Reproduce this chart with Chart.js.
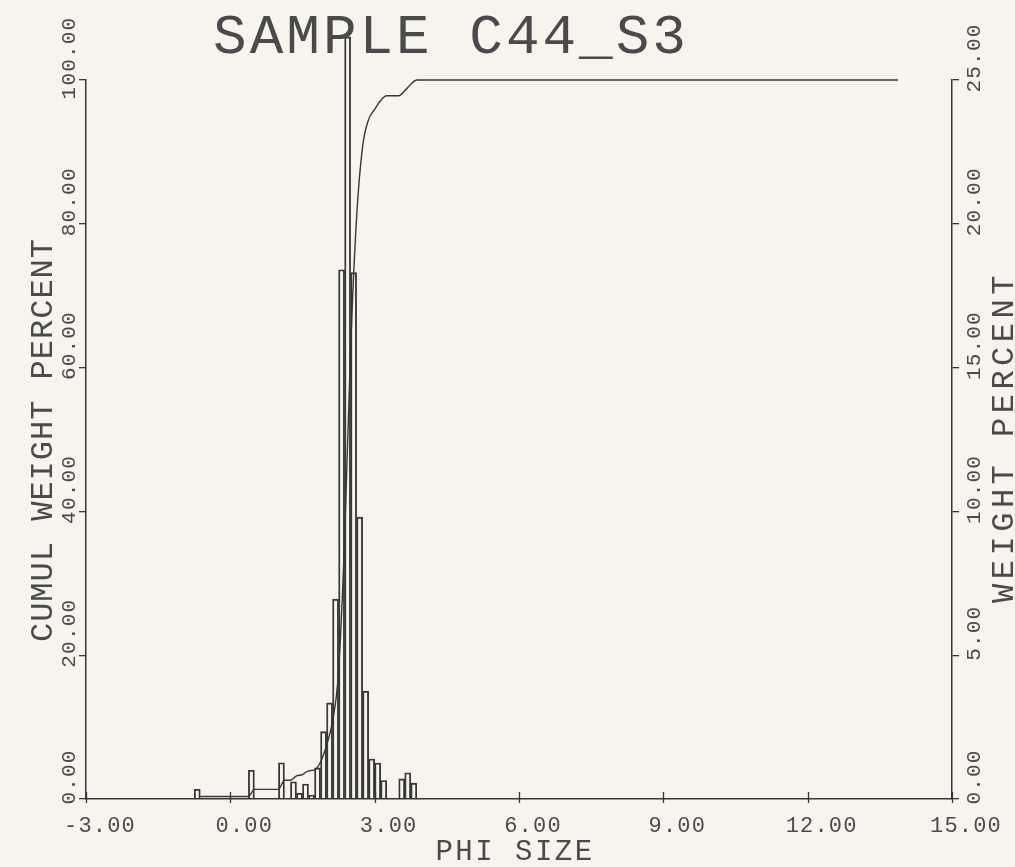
<!DOCTYPE html>
<html>
<head>
<meta charset="utf-8">
<title>SAMPLE C44_S3</title>
<script src="https://cdn.jsdelivr.net/npm/chart.js@4/dist/chart.umd.min.js"></script>
<style>
  html, body { margin: 0; padding: 0; background: #f7f4ee; }
  #wrap { position: relative; width: 1015px; height: 867px; }
</style>
</head>
<body>
<div id="wrap"><canvas id="chart" width="1015" height="867"></canvas></div>
<script>
// weight percent in each 1/8 phi class (lower edge of the class)
const binLow = [-0.75, 0.375, 1.0, 1.25, 1.375, 1.5, 1.625, 1.75, 1.875, 2.0, 2.125,
                2.25, 2.375, 2.5, 2.625, 2.75, 2.875, 3.0, 3.125, 3.5, 3.625, 3.75];
const weightPct = [0.34, 1.0, 1.26, 0.6, 0.2, 0.52, 0.14, 1.08, 2.34, 3.34, 6.95,
                   18.4, 26.5, 18.3, 9.8, 3.75, 1.39, 1.25, 0.64, 0.7, 0.91, 0.55];

// cumulative weight percent, plotted at the upper edge of each class
const cumPhi = [-0.625, 0.375, 0.5, 1.0, 1.125, 1.25, 1.375, 1.5, 1.625, 1.75, 1.875, 2.0,
                2.125, 2.25, 2.375, 2.5, 2.625, 2.75, 2.875, 3.0, 3.125, 3.25, 3.5, 3.625,
                3.75, 3.875, 13.875];
const cumPct = [0.34, 0.34, 1.34, 1.34, 2.6, 2.6, 3.2, 3.4, 3.92, 4.06, 5.14, 7.48,
                10.82, 17.77, 36.17, 62.67, 80.97, 90.77, 94.52, 95.91, 97.16, 97.8, 97.8, 98.5,
                99.41, 100, 100];

const xTicks = [-3, 0, 3, 6, 9, 12, 15];
const cumTicks = [0, 20, 40, 60, 80, 100];
const wtTicks = [0, 5, 10, 15, 20, 25];

const BIN = 0.125;
const INK = '#363636';
const TEXT_INK = '#4a4a4a';
const FONT = '"Liberation Mono", "DejaVu Sans Mono", monospace';

function plotText(ctx, str, x, y, size, spacing, rot, align) {
    ctx.save();
    ctx.translate(x, y);
    if (rot) ctx.rotate(rot);
    ctx.font = size + 'px ' + FONT;
    ctx.letterSpacing = spacing + 'px';
    ctx.textAlign = align || 'center';
    ctx.textBaseline = 'alphabetic';
    ctx.fillStyle = TEXT_INK;
    ctx.fillText(str, 0, 0);
    ctx.restore();
}

// all lettering (and the x tick marks, which cross the axis) is done here
const lettering = {
    id: 'lettering',
    afterDraw(chart) {
        const { ctx, scales, chartArea } = chart;
        const up = -Math.PI / 2;

        ctx.save();
        ctx.strokeStyle = INK;
        ctx.lineWidth = 1.3;
        xTicks.forEach(v => {
            const px = Math.round(scales.x.getPixelForValue(v)) + 0.5;
            ctx.beginPath();
            ctx.moveTo(px, chartArea.bottom - 7);
            ctx.lineTo(px, chartArea.bottom + 4);
            ctx.stroke();
        });
        ctx.restore();

        plotText(ctx, 'SAMPLE C44_S3', 451, 53, 56, 3);

        xTicks.forEach(v => {
            plotText(ctx, v.toFixed(2), scales.x.getPixelForValue(v) + 14, 832, 22, 1.2);
        });
        plotText(ctx, 'PHI SIZE', 515, 860, 29, 2.5);

        cumTicks.forEach(v => {
            plotText(ctx, v.toFixed(2), 75, scales.yL.getPixelForValue(v) - 22, 21, 1.2, up);
        });
        plotText(ctx, 'CUMUL WEIGHT PERCENT', 52, 440, 32, 1, up);

        wtTicks.forEach(v => {
            plotText(ctx, v.toFixed(2), 980, scales.yR.getPixelForValue(v) - 22, 21, 1.2, up);
        });
        plotText(ctx, 'WEIGHT PERCENT', 1013, 437, 32, 4.5, up);
    }
};

const axisLine = { color: INK, width: 1.5 };
const tickMarks = { drawOnChartArea: false, drawTicks: true, tickLength: 7, color: INK, lineWidth: 1.3, offset: false };

new Chart(document.getElementById('chart'), {
    type: 'bar',
    data: {
        datasets: [
            {
                type: 'line',
                data: cumPhi.map((p, i) => ({ x: p, y: cumPct[i] })),
                xAxisID: 'x',
                yAxisID: 'yL',
                borderColor: INK,
                borderWidth: 1.4,
                pointRadius: 0,
                fill: false,
                cubicInterpolationMode: 'monotone',
                clip: false
            },
            {
                type: 'bar',
                data: binLow.map((b, i) => ({ x: b + BIN / 2, y: weightPct[i] })),
                xAxisID: 'x',
                yAxisID: 'yR',
                backgroundColor: 'rgba(0,0,0,0)',
                borderColor: INK,
                borderWidth: 1.2,
                borderSkipped: 'bottom',
                barPercentage: 1,
                categoryPercentage: 1,
                grouped: false,
                clip: false
            }
        ]
    },
    options: {
        responsive: false,
        animation: false,
        devicePixelRatio: 1,
        layout: { padding: { top: 80, left: 0, right: 0, bottom: 0 } },
        plugins: {
            legend: { display: false },
            tooltip: { enabled: false },
            title: { display: false }
        },
        scales: {
            x: {
                type: 'linear',
                position: 'bottom',
                offset: false,
                min: -3,
                max: 15,
                afterBuildTicks: s => { s.ticks = xTicks.map(v => ({ value: v })); },
                afterFit: s => { s.height = 68; },
                ticks: { display: false },
                grid: { display: false },
                border: axisLine
            },
            yL: {
                type: 'linear',
                position: 'left',
                min: 0,
                max: 100,
                afterBuildTicks: s => { s.ticks = cumTicks.map(v => ({ value: v })); },
                afterFit: s => { s.width = 86; },
                ticks: { display: false },
                grid: tickMarks,
                border: axisLine
            },
            yR: {
                type: 'linear',
                position: 'right',
                min: 0,
                max: 25,
                afterBuildTicks: s => { s.ticks = wtTicks.map(v => ({ value: v })); },
                afterFit: s => { s.width = 63; },
                ticks: { display: false },
                grid: tickMarks,
                border: axisLine
            }
        }
    },
    plugins: [lettering]
});
</script>
</body>
</html>
